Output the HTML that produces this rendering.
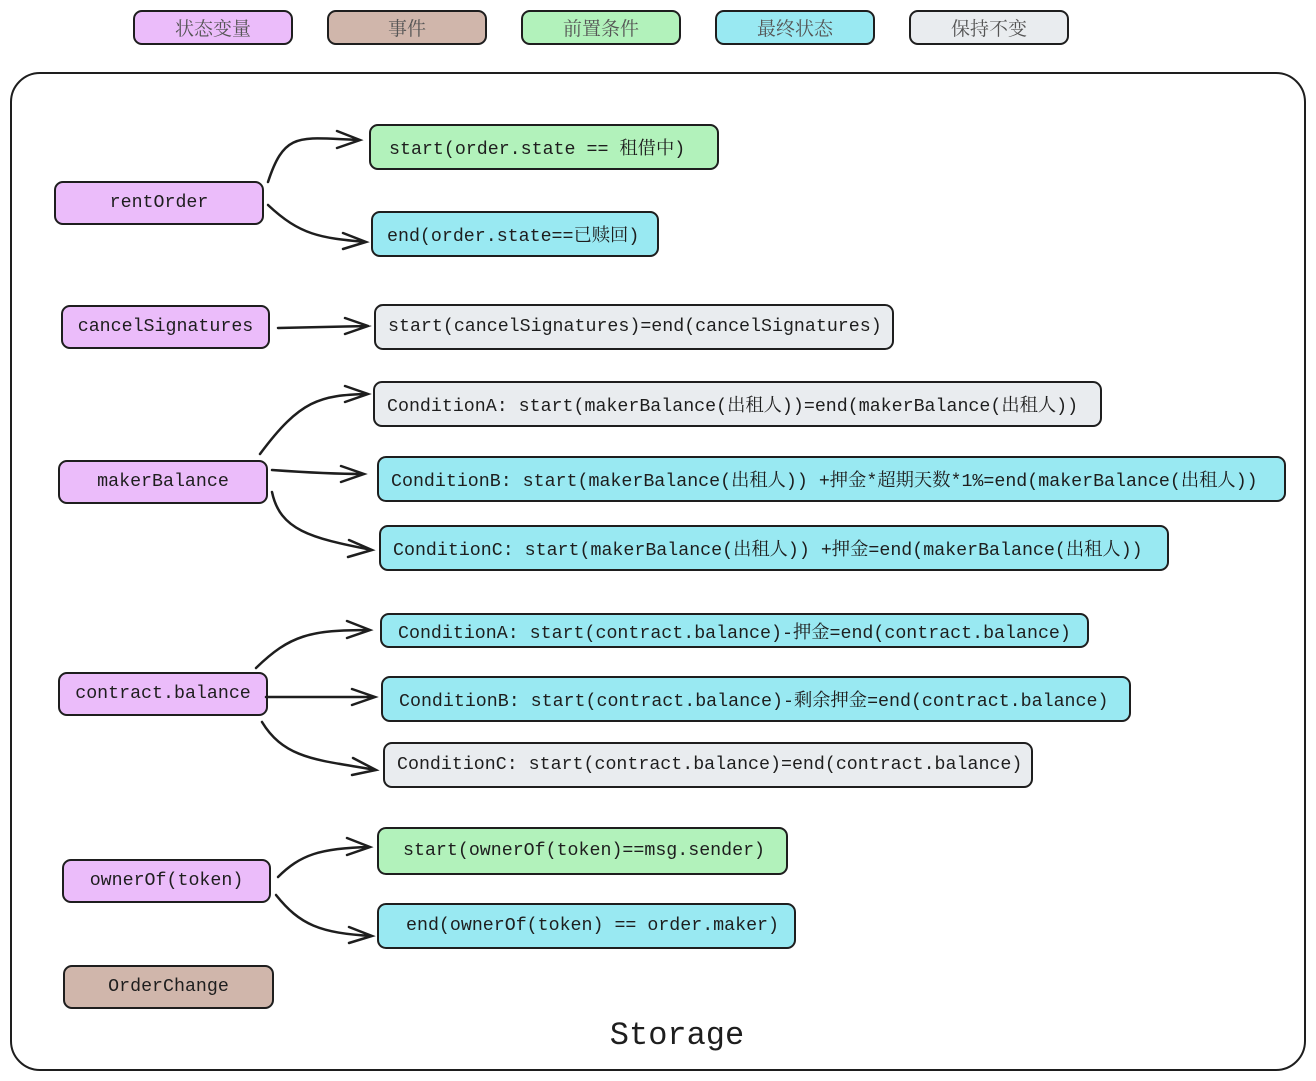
<!DOCTYPE html>
<html><head><meta charset="utf-8"><style>
body{margin:0;width:1316px;height:1081px;background:#fff;position:relative;overflow:hidden;font-family:"Liberation Mono","Noto Serif CJK SC",monospace;}
.b{position:absolute;box-sizing:border-box;border:2px solid #1e1e1e;border-radius:9px;display:flex;align-items:center;justify-content:center;font-size:18.3px;color:#1e1e1e;white-space:nowrap;}
.l{justify-content:flex-start;padding-left:12px;}
.p{background:#ebbcfa}.r{background:#d0b6ab}.g{background:#b2f2bb}.c{background:#99e9f2}.y{background:#e9ecef}
.lg{font-family:"Liberation Serif","Noto Serif CJK SC",serif;color:#555;font-size:19px;}
</style></head><body>
<div class="b p lg" style="left:133px;top:10px;width:160px;height:35px">状态变量</div>
<div class="b r lg" style="left:327px;top:10px;width:160px;height:35px">事件</div>
<div class="b g lg" style="left:521px;top:10px;width:160px;height:35px">前置条件</div>
<div class="b c lg" style="left:715px;top:10px;width:160px;height:35px">最终状态</div>
<div class="b y lg" style="left:909px;top:10px;width:160px;height:35px">保持不变</div>
<div style="position:absolute;left:10px;top:72px;width:1296px;height:999px;box-sizing:border-box;border:2px solid #1e1e1e;border-radius:30px"></div>

<div class="b p" style="left:54px;top:181px;width:210px;height:44px">rentOrder</div>
<div class="b g l" style="left:369px;top:124px;width:350px;height:46px;padding-left:18px">start(order.state == 租借中)</div>
<div class="b c l" style="left:371px;top:211px;width:288px;height:46px;padding-left:14px">end(order.state==已赎回)</div>
<div class="b p" style="left:61px;top:305px;width:209px;height:44px">cancelSignatures</div>
<div class="b y l" style="left:374px;top:304px;width:520px;height:46px">start(cancelSignatures)=end(cancelSignatures)</div>
<div class="b p" style="left:58px;top:460px;width:210px;height:44px">makerBalance</div>
<div class="b y l" style="left:373px;top:381px;width:729px;height:46px">ConditionA: start(makerBalance(出租人))=end(makerBalance(出租人))</div>
<div class="b c l" style="left:377px;top:456px;width:909px;height:46px">ConditionB: start(makerBalance(出租人)) +押金*超期天数*1%=end(makerBalance(出租人))</div>
<div class="b c l" style="left:379px;top:525px;width:790px;height:46px">ConditionC: start(makerBalance(出租人)) +押金=end(makerBalance(出租人))</div>
<div class="b p" style="left:58px;top:672px;width:210px;height:44px">contract.balance</div>
<div class="b c l" style="left:380px;top:613px;width:709px;height:35px;padding-left:16px">ConditionA: start(contract.balance)-押金=end(contract.balance)</div>
<div class="b c l" style="left:381px;top:676px;width:750px;height:46px;padding-left:16px">ConditionB: start(contract.balance)-剩余押金=end(contract.balance)</div>
<div class="b y l" style="left:383px;top:742px;width:650px;height:46px">ConditionC: start(contract.balance)=end(contract.balance)</div>
<div class="b p" style="left:62px;top:859px;width:209px;height:44px">ownerOf(token)</div>
<div class="b g l" style="left:377px;top:827px;width:411px;height:48px;padding-left:24px">start(ownerOf(token)==msg.sender)</div>
<div class="b c l" style="left:377px;top:903px;width:419px;height:46px;padding-left:27px">end(ownerOf(token) == order.maker)</div>
<div class="b r" style="left:63px;top:965px;width:211px;height:44px">OrderChange</div>
<div style="position:absolute;left:577px;top:1017px;width:200px;text-align:center;font-size:32px;color:#1e1e1e">Storage</div>

<svg width="1316" height="1081" style="position:absolute;left:0;top:0" fill="none" stroke="#1e1e1e" stroke-width="2.5" stroke-linecap="round">
<path d="M268 182 C285 130 300 138 360 140 M337 131 L360 140 L337 148"/>
<path d="M268 205 C300 235 320 238 366 242 M343 233 L366 242 L343 249"/>
<path d="M278 328 L368 326 M345 318 L368 326 L345 334"/>
<path d="M260 454 C300 400 320 395 368 394 M345 386 L368 394 L345 402"/>
<path d="M272 470 C300 472 330 474 364 474 M341 466 L364 474 L341 482"/>
<path d="M272 492 C280 530 310 538 372 550 M349 540 L372 550 L348 557"/>
<path d="M256 668 C290 635 310 630 370 630 M347 621 L370 630 L347 638"/>
<path d="M266 697 L375 697 M352 689 L375 697 L352 705"/>
<path d="M262 722 C285 760 320 760 376 770 M353 758 L376 770 L352 775"/>
<path d="M278 877 C300 855 320 848 370 847 M347 838 L370 847 L347 855"/>
<path d="M276 895 C300 925 320 933 372 936 M349 927 L372 936 L349 943"/>
</svg>
</body></html>
